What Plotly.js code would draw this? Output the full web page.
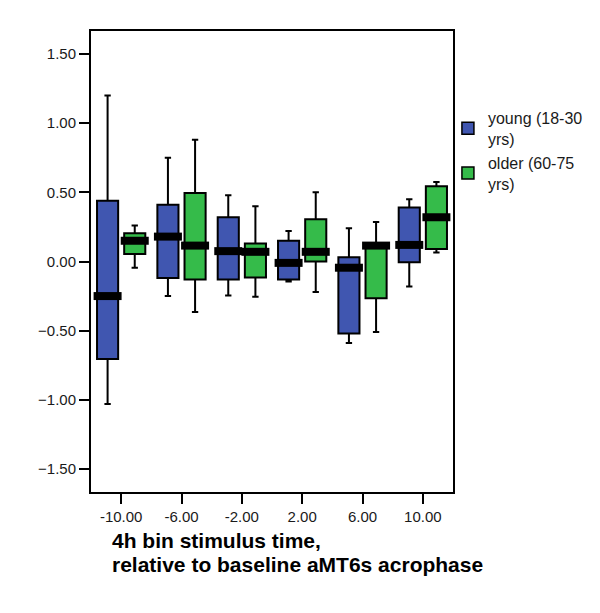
<!DOCTYPE html>
<html>
<head>
<meta charset="utf-8">
<script src="https://cdn.plot.ly/plotly-3.0.1.min.js"></script>
<style>html,body{margin:0;padding:0;background:#fff;}#chart{width:600px;height:613px;}</style>
</head>
<body>
<div id="chart"></div>
<script>
// Stimulus time bins (h, relative to baseline aMT6s acrophase)
const categories = [-10, -6, -2, 2, 6, 10];
const tickLabels = ["-10.00", "-6.00", "-2.00", "2.00", "6.00", "10.00"];

// young (18-30 yrs)
const youngUpper  = [1.20, 0.75, 0.48, 0.22, 0.24, 0.45];
const youngQ3     = [0.44, 0.41, 0.32, 0.15, 0.03, 0.39];
const youngMedian = [-0.25, 0.18, 0.075, -0.01, -0.045, 0.12];
const youngQ1     = [-0.705, -0.12, -0.13, -0.13, -0.52, -0.005];
const youngLower  = [-1.03, -0.25, -0.245, -0.145, -0.59, -0.18];

// older (60-75 yrs)
const olderUpper  = [0.26, 0.88, 0.40, 0.50, 0.285, 0.575];
const olderQ3     = [0.205, 0.495, 0.13, 0.305, 0.125, 0.545];
const olderMedian = [0.15, 0.115, 0.07, 0.07, 0.115, 0.32];
const olderQ1     = [0.055, -0.13, -0.115, 0.0, -0.265, 0.09];
const olderLower  = [-0.045, -0.365, -0.255, -0.22, -0.51, 0.065];

const blue = "#4056b0";
const green = "#35bb4a";
const offset = 0.9;
const boxWidth = 1.4;
const FONT = '"Liberation Sans", Arial, sans-serif';

function boxTrace(pos, q1, med, q3, lo, hi, color) {
  return {
    type: "box",
    x: pos, q1: q1, median: med, q3: q3, lowerfence: lo, upperfence: hi,
    width: boxWidth, whiskerwidth: 0.3,
    fillcolor: color, line: {color: "#000", width: 2},
    boxpoints: false, showlegend: false, hoverinfo: "skip"
  };
}
function medianTrace(pos, med) {
  return {
    type: "scatter", mode: "markers", x: pos, y: med,
    marker: {symbol: "line-ew", size: 20, color: "#000", line: {color: "#000", width: 8}},
    showlegend: false, hoverinfo: "skip"
  };
}
function legendTrace(name, color) {
  return {
    type: "scatter", mode: "markers", x: [null], y: [null], name: name,
    marker: {symbol: "square", size: 12, color: color, line: {color: "#000", width: 1.5}}
  };
}

const youngPos = categories.map(c => c - offset);
const olderPos = categories.map(c => c + offset);

const data = [
  boxTrace(youngPos, youngQ1, youngMedian, youngQ3, youngLower, youngUpper, blue),
  boxTrace(olderPos, olderQ1, olderMedian, olderQ3, olderLower, olderUpper, green),
  medianTrace(youngPos, youngMedian),
  medianTrace(olderPos, olderMedian),
  legendTrace("young (18-30<br>yrs)", blue),
  legendTrace("older (60-75<br>yrs)", green)
];

const layout = {
  width: 600, height: 613,
  margin: {l: 91, r: 147, t: 31, b: 121, autoexpand: false},
  paper_bgcolor: "#fff", plot_bgcolor: "#fff",
  font: {family: FONT, size: 15, color: "#1a1a1a"},
  showlegend: true,
  legend: {x: 0.986, y: 0.848, xanchor: "left", yanchor: "top",
           font: {family: FONT, size: 16, color: "#1a1a1a"}, bgcolor: "rgba(0,0,0,0)"},
  xaxis: {
    range: [-12, 12], tickvals: categories, ticktext: tickLabels,
    ticks: "outside", ticklen: 10, tickwidth: 2, tickcolor: "#000",
    showline: true, linecolor: "#000", linewidth: 2, mirror: true,
    showgrid: false, zeroline: false,
    tickfont: {family: FONT, size: 15, color: "#1a1a1a"}
  },
  yaxis: {
    range: [-1.667, 1.667], tickvals: [-1.5, -1, -0.5, 0, 0.5, 1, 1.5], tickformat: ".2f",
    ticks: "outside", ticklen: 10, tickwidth: 2, tickcolor: "#000",
    showline: true, linecolor: "#000", linewidth: 2, mirror: true,
    showgrid: false, zeroline: false,
    tickfont: {family: FONT, size: 15, color: "#1a1a1a"}
  },
  annotations: [
    {text: "<b>4h bin stimulus time,</b>", xref: "paper", yref: "paper",
     x: (110 - 91) / 362, y: (492 - 540) / 461, xanchor: "left", yanchor: "middle",
     showarrow: false, font: {family: FONT, size: 21, color: "#000"}},
    {text: "<b>relative to baseline aMT6s acrophase</b>", xref: "paper", yref: "paper",
     x: (110 - 91) / 362, y: (492 - 564) / 461, xanchor: "left", yanchor: "middle",
     showarrow: false, font: {family: FONT, size: 21, color: "#000"}}
  ]
};

Plotly.newPlot("chart", data, layout, {displayModeBar: false, staticPlot: true});
</script>
</body>
</html>
